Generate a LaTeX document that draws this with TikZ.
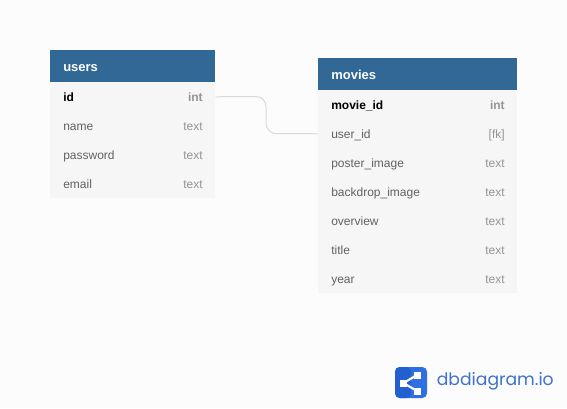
\documentclass[tikz,border=0pt]{standalone}
\usepackage{fontspec}
\setmainfont{Liberation Sans}
\newfontfamily\logofont{Poppins}
\usetikzlibrary{positioning}
\definecolor{pagebg}{HTML}{FCFCFC}
\definecolor{headblue}{HTML}{316896}
\definecolor{rowbg}{HTML}{F6F6F6}
\definecolor{linkgray}{HTML}{D9D9D9}
\definecolor{logoblue}{HTML}{2F6FE4}
\definecolor{logodark}{HTML}{2260D0}
\definecolor{logotext}{HTML}{3F72CE}
\tikzset{
    tablehead/.style={fill=headblue, anchor=north west, minimum height=24pt, inner sep=0pt},
    tabletitle/.style={text=white, font=\fontsize{9.75pt}{11pt}\bfseries, anchor=base west, inner sep=0pt},
    tablerow/.style={fill=rowbg, anchor=north west, minimum height=21.75pt, inner sep=0pt},
    fieldname/.style={text=black!62, font=\fontsize{9pt}{11pt}\selectfont, anchor=base west, inner sep=0pt},
    keyname/.style={fieldname, text=black, font=\fontsize{9pt}{11pt}\bfseries},
    fieldtype/.style={text=black!42, font=\fontsize{9pt}{11pt}\selectfont, anchor=base east, inner sep=0pt},
    keytype/.style={fieldtype, font=\fontsize{9pt}{11pt}\bfseries},
    sharelink/.style={white, line width=1.6pt}
}
\begin{document}
\begin{tikzpicture}[x=0.75pt, y=-0.75pt]
    \useasboundingbox[fill=pagebg] (0, 0) rectangle (567, 408);
    % users
    \node[tablehead, minimum width=123.75pt] (users) at (50, 50) {};
    \node[tablerow, minimum width=123.75pt] (usersid) at (50, 82) {};
    \node[tablerow, minimum width=123.75pt] (usersname) at (50, 111) {};
    \node[tablerow, minimum width=123.75pt] (userspassword) at (50, 140) {};
    \node[tablerow, minimum width=123.75pt] (usersemail) at (50, 169) {};
    \node[tabletitle] (usersl) at (63, 71) {users};
    \node[keyname] (usersidl) at (63, 101) {id};
    \node[keytype] (usersidt) at (203, 101) {int};
    \node[fieldname] (usersnamel) at (63, 130) {name};
    \node[fieldtype] (usersnamet) at (203, 130) {text};
    \node[fieldname] (userspasswordl) at (63, 159) {password};
    \node[fieldtype] (userspasswordt) at (203, 159) {text};
    \node[fieldname] (usersemaill) at (63, 188) {email};
    \node[fieldtype] (usersemailt) at (203, 188) {text};
    % movies
    \node[tablehead, minimum width=149.25pt] (movies) at (318, 58) {};
    \node[tablerow, minimum width=149.25pt] (moviesid) at (318, 90) {};
    \node[tablerow, minimum width=149.25pt] (moviesuser) at (318, 119) {};
    \node[tablerow, minimum width=149.25pt] (moviesposter) at (318, 148) {};
    \node[tablerow, minimum width=149.25pt] (moviesbackdrop) at (318, 177) {};
    \node[tablerow, minimum width=149.25pt] (moviesoverview) at (318, 206) {};
    \node[tablerow, minimum width=149.25pt] (moviestitle) at (318, 235) {};
    \node[tablerow, minimum width=149.25pt] (moviesyear) at (318, 264) {};
    \node[tabletitle] (moviesl) at (331, 79) {movies};
    \node[keyname] (moviesidl) at (331, 109) {movie\_id};
    \node[keytype] (moviesidt) at (505, 109) {int};
    \node[fieldname] (moviesuserl) at (331, 138) {user\_id};
    \node[fieldtype] (moviesusert) at (505, 138) {[fk]};
    \node[fieldname] (moviesposterl) at (331, 167) {poster\_image};
    \node[fieldtype] (moviespostert) at (505, 167) {text};
    \node[fieldname] (moviesbackdropl) at (331, 196) {backdrop\_image};
    \node[fieldtype] (moviesbackdropt) at (505, 196) {text};
    \node[fieldname] (moviesoverviewl) at (331, 225) {overview};
    \node[fieldtype] (moviesoverviewt) at (505, 225) {text};
    \node[fieldname] (moviestitlel) at (331, 254) {title};
    \node[fieldtype] (moviestitlet) at (505, 254) {text};
    \node[fieldname] (moviesyearl) at (331, 283) {year};
    \node[fieldtype] (moviesyeart) at (505, 283) {text};
    % link
    \draw[linkgray, line width=0.75pt, rounded corners=7.5pt]
        (usersid.east) -- (266, 96.5) -- (266, 133.5) -- (moviesuser.west);
    % logo
    \fill[logoblue, rounded corners=3.5pt] (395, 367) rectangle (427, 398);
    \fill[logodark, rounded corners=3.5pt] (395, 367) rectangle (411, 398);
    \coordinate (sharel) at (403.5, 383);
    \coordinate (sharet) at (417, 375);
    \coordinate (shareb) at (417, 391);
    \draw[sharelink] (sharet) -- (sharel) -- (shareb);
    \fill[white] (400, 379.5) rectangle (407, 386.5);
    \fill[white] (413.5, 371.5) rectangle (420.5, 378.5);
    \fill[white] (413.5, 387.5) rectangle (420.5, 394.5);
    \node[text=logotext, font=\logofont\fontsize{12.9pt}{16pt}\selectfont, anchor=west, inner sep=0pt] (logotitle) at (436.5, 381.5) {dbdiagram.io};
\end{tikzpicture}
\end{document}
